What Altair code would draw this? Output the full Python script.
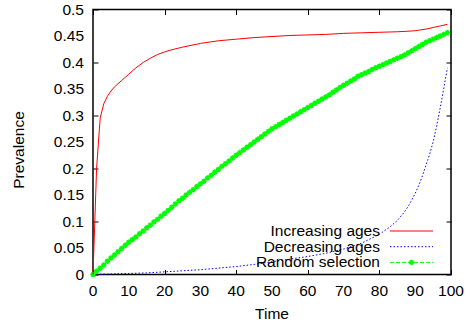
import altair as alt
import pandas as pd

FONT = "Liberation Sans"

# ---- data ----
x_ticks = [0, 10, 20, 30, 40, 50, 60, 70, 80, 90, 100]
x_labels = ["0", "10", "20", "30", "40", "50", "60", "70", "80", "90", "100"]
y_ticks = [0, 0.05, 0.1, 0.15, 0.2, 0.25, 0.3, 0.35, 0.4, 0.45, 0.5]
y_labels = ["0", "0.05", "0.1", "0.15", "0.2", "0.25", "0.3", "0.35", "0.4",
            "0.45", "0.5"]

red_t = [0, 1, 2, 3, 4, 5, 6, 7, 8, 9, 10, 12, 14, 16, 18, 20, 22, 25, 30, 35,
         40, 45, 50, 55, 60, 65, 70, 75, 80, 85, 88, 90, 91, 93, 95, 97, 99]
red_v = [0, 0.2, 0.295, 0.322, 0.336, 0.346, 0.354, 0.360, 0.366, 0.372, 0.378,
         0.390, 0.400, 0.408, 0.415, 0.420, 0.424, 0.429, 0.436, 0.441, 0.444,
         0.447, 0.449, 0.451, 0.452, 0.453, 0.455, 0.456, 0.457, 0.458, 0.459,
         0.460, 0.461, 0.463, 0.466, 0.469, 0.472]

blue_t = [0, 5, 10, 15, 20, 25, 30, 35, 40, 45, 50, 55, 60, 65, 70, 75, 80, 83,
          85, 87, 88, 89, 90, 91, 92, 93, 94, 95, 96, 97, 98, 99]
blue_v = [0, 0.001, 0.002, 0.003, 0.005, 0.007, 0.009, 0.012, 0.015, 0.019,
          0.024, 0.029, 0.034, 0.040, 0.048, 0.059, 0.076, 0.090, 0.102, 0.118,
          0.128, 0.140, 0.153, 0.168, 0.186, 0.206, 0.226, 0.250, 0.280, 0.315,
          0.352, 0.390]

green_t = list(range(100))
green_v = [0.000, 0.006, 0.012, 0.018, 0.025, 0.031, 0.037, 0.043, 0.049, 0.055,
           0.061, 0.066, 0.071, 0.077, 0.082, 0.088, 0.093, 0.099, 0.104, 0.110,
           0.115, 0.121, 0.127, 0.133, 0.139, 0.144, 0.150, 0.155, 0.160, 0.166,
           0.171, 0.176, 0.182, 0.187, 0.193, 0.198, 0.204, 0.209, 0.214, 0.220,
           0.225, 0.230, 0.235, 0.240, 0.245, 0.250, 0.255, 0.260, 0.265, 0.270,
           0.275, 0.279, 0.283, 0.287, 0.291, 0.295, 0.299, 0.303, 0.307, 0.311,
           0.315, 0.319, 0.323, 0.327, 0.331, 0.335, 0.339, 0.344, 0.348, 0.353,
           0.357, 0.361, 0.365, 0.369, 0.374, 0.377, 0.380, 0.383, 0.387, 0.390,
           0.393, 0.396, 0.399, 0.402, 0.405, 0.408, 0.411, 0.414, 0.418, 0.422,
           0.426, 0.430, 0.434, 0.438, 0.441, 0.444, 0.447, 0.450, 0.453, 0.456]

names = ["Increasing ages", "Decreasing ages", "Random selection"]
colors = ["#ff0000", "#0000ff", "#00ff00"]
dashes = [[1, 0], [1.5, 2], [4, 2]]
x_title = "Time"
y_title = "Prevalence"

# ---- layout ----
W, H = 358, 265
FS = 15.5
TICK = 5
STAR = "M-1,0L1,0M0,-1L0,1M-0.7,-0.7L0.7,0.7M-0.7,0.7L0.7,-0.7"

xs = alt.Scale(domain=[0, 100], nice=False, zero=False)
ys = alt.Scale(domain=[0, 0.5], nice=False, zero=False)

red_df = pd.DataFrame({"t": red_t, "v": red_v})
blue_df = pd.DataFrame({"t": blue_t, "v": blue_v})
green_df = pd.DataFrame({"t": green_t, "v": green_v})


def tick_axis(orient, vals):
    # ticks only, pulled inside the frame so they point inward
    return alt.Axis(orient=orient, values=vals, tickCount=10, offset=-TICK,
                    ticks=True, tickSize=TICK, tickColor="black", tickWidth=1,
                    labels=False, domain=False, grid=False, title="")


layers = []

# four invisible layers that carry the inward tick marks on all sides
for orient in ["bottom", "top"]:
    layers.append(alt.Chart(green_df).mark_point(opacity=0).encode(
        x=alt.X("t:Q", scale=xs, axis=tick_axis(orient, x_ticks)),
        y=alt.Y("v:Q", scale=ys, axis=None)))
for orient in ["left", "right"]:
    layers.append(alt.Chart(green_df).mark_point(opacity=0).encode(
        x=alt.X("t:Q", scale=xs, axis=None),
        y=alt.Y("v:Q", scale=ys, axis=tick_axis(orient, y_ticks))))

# tick labels
xt = pd.DataFrame({"xpos": x_ticks, "xlab": x_labels})
yt = pd.DataFrame({"ypos": y_ticks, "ylab": y_labels})
layers.append(alt.Chart(xt).mark_text(font=FONT, fontSize=FS, color="black",
                                      align="center", baseline="middle").encode(
    x=alt.X("xpos:Q", scale=xs, axis=None), y=alt.value(H + 16),
    text="xlab:N"))
layers.append(alt.Chart(yt).mark_text(font=FONT, fontSize=FS, color="black",
                                      align="right", baseline="middle").encode(
    y=alt.Y("ypos:Q", scale=ys, axis=None), x=alt.value(-9),
    text="ylab:N"))

# axis titles
layers.append(alt.Chart(pd.DataFrame({"s": [x_title]})).mark_text(
    font=FONT, fontSize=FS, color="black", align="center", baseline="middle").encode(
    x=alt.value(W / 2), y=alt.value(H + 39.5), text="s:N"))
layers.append(alt.Chart(pd.DataFrame({"s": [y_title]})).mark_text(
    font=FONT, fontSize=FS, color="black", align="center", baseline="middle",
    angle=270).encode(
    x=alt.value(-74), y=alt.value(140.5), text="s:N"))

# series
layers.append(alt.Chart(blue_df).mark_line(color=colors[1], strokeWidth=1,
                                           strokeDash=dashes[1]).encode(
    x=alt.X("t:Q", scale=xs, axis=None), y=alt.Y("v:Q", scale=ys, axis=None)))
layers.append(alt.Chart(green_df).mark_line(color=colors[2], strokeWidth=1,
                                            strokeDash=dashes[2]).encode(
    x=alt.X("t:Q", scale=xs, axis=None), y=alt.Y("v:Q", scale=ys, axis=None)))
layers.append(alt.Chart(green_df).mark_point(shape=STAR, filled=False, size=30,
                                             color=colors[2], strokeWidth=1.5,
                                             opacity=1).encode(
    x=alt.X("t:Q", scale=xs, axis=None), y=alt.Y("v:Q", scale=ys, axis=None)))
layers.append(alt.Chart(red_df).mark_line(color=colors[0], strokeWidth=1).encode(
    x=alt.X("t:Q", scale=xs, axis=None), y=alt.Y("v:Q", scale=ys, axis=None)))

# legend (bottom right, inside the frame)
LEG_Y0, LEG_DY = 221.5, 15.7
TXT_X, L0, L1 = 287, 297, 340
for i, (name, col, dash) in enumerate(zip(names, colors, dashes)):
    d = pd.DataFrame({"name": [name]})
    yy = LEG_Y0 + i * LEG_DY
    layers.append(alt.Chart(d).mark_text(align="right", baseline="middle",
                                         font=FONT, fontSize=FS,
                                         color="black").encode(
        text="name:N", x=alt.value(TXT_X), y=alt.value(yy)))
    layers.append(alt.Chart(d).mark_rule(color=col, strokeWidth=1,
                                         strokeDash=dash).encode(
        x=alt.value(L0), x2=alt.value(L1), y=alt.value(yy)))
    if i == 2:
        layers.append(alt.Chart(d).mark_point(shape=STAR, filled=False, size=30,
                                              color=col, strokeWidth=1.5,
                                              opacity=1).encode(
            x=alt.value((L0 + L1) / 2), y=alt.value(yy)))

chart = alt.layer(*layers).resolve_axis(
    x="independent", y="independent"
).properties(
    width=W, height=H,
    autosize=alt.AutoSizeParams(type="none"),
    padding={"left": 93, "top": 9.5, "right": 21, "bottom": 51.5},
    background="white",
).configure_view(stroke="black", strokeWidth=1.5)

chart.save("out.html", embed_options={"renderer": "svg", "actions": False})
